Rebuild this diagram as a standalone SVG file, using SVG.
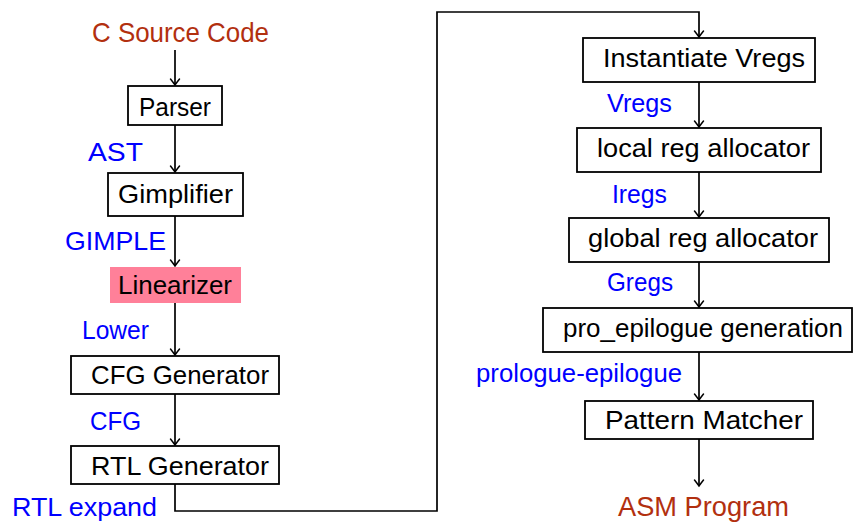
<svg xmlns="http://www.w3.org/2000/svg" width="854" height="523" viewBox="0 0 854 523">
<style>
.box{fill:#fff;stroke:#000;stroke-width:1.8}
.pink{fill:#ff8099;stroke:none}
.t{font-family:"Liberation Sans","DejaVu Sans",sans-serif;font-size:26.5px;fill:#000}
.lbl{font-family:"Liberation Sans","DejaVu Sans",sans-serif;font-size:26.5px;fill:#0000ff}
.io{font-family:"Liberation Sans","DejaVu Sans",sans-serif;font-size:27.5px;fill:#b2300f}
.ln{fill:none;stroke:#000;stroke-width:1.7}
</style>
<defs>
<marker id="ar" markerUnits="userSpaceOnUse" markerWidth="14" markerHeight="14" refX="0" refY="0" viewBox="-10 -7 12 14" orient="auto">
<path d="M-6,-4.5 Q-1.5,-1 0,0 Q-1.5,1 -6,4.5" fill="none" stroke="#000" stroke-width="1.5" stroke-linecap="round"/>
</marker>
</defs>
<g id="connectors">
<line class="ln" x1="175" y1="50" x2="175" y2="85" marker-end="url(#ar)"/>
<line class="ln" x1="175" y1="125" x2="175" y2="172" marker-end="url(#ar)"/>
<line class="ln" x1="175" y1="216" x2="175" y2="266" marker-end="url(#ar)"/>
<line class="ln" x1="175" y1="303" x2="175" y2="355" marker-end="url(#ar)"/>
<line class="ln" x1="175" y1="394" x2="175" y2="445" marker-end="url(#ar)"/>
<path class="ln" d="M175,484 V511 H437 V12 H699 V37" marker-end="url(#ar)"/>
<line class="ln" x1="699" y1="82" x2="699" y2="127" marker-end="url(#ar)"/>
<line class="ln" x1="699" y1="172" x2="699" y2="217" marker-end="url(#ar)"/>
<line class="ln" x1="699" y1="262" x2="699" y2="307" marker-end="url(#ar)"/>
<line class="ln" x1="699" y1="352" x2="699" y2="400" marker-end="url(#ar)"/>
<line class="ln" x1="699" y1="439" x2="699" y2="486" marker-end="url(#ar)"/>
<text class="lbl" x="88" y="161" textLength="55" lengthAdjust="spacingAndGlyphs">AST</text>
<text class="lbl" x="65" y="250" textLength="101" lengthAdjust="spacingAndGlyphs">GIMPLE</text>
<text class="lbl" x="82" y="339" textLength="67" lengthAdjust="spacingAndGlyphs">Lower</text>
<text class="lbl" x="90" y="430" textLength="51" lengthAdjust="spacingAndGlyphs">CFG</text>
<text class="lbl" x="12" y="516" textLength="145" lengthAdjust="spacingAndGlyphs">RTL expand</text>
<text class="lbl" x="607" y="112" textLength="65" lengthAdjust="spacingAndGlyphs">Vregs</text>
<text class="lbl" x="612" y="203" textLength="55" lengthAdjust="spacingAndGlyphs">Iregs</text>
<text class="lbl" x="607" y="291" textLength="66" lengthAdjust="spacingAndGlyphs">Gregs</text>
<text class="lbl" x="476" y="382" textLength="206" lengthAdjust="spacingAndGlyphs">prologue-epilogue</text>
</g>
<g id="src"><text class="io" x="92" y="42" textLength="177" lengthAdjust="spacingAndGlyphs">C Source Code</text></g>
<g id="parser"><rect class="box" x="128" y="86" width="94" height="39"/><text class="t" x="139" y="116" textLength="72" lengthAdjust="spacingAndGlyphs">Parser</text></g>
<g id="gimplifier"><rect class="box" x="108" y="173" width="135" height="43"/><text class="t" x="118" y="203" textLength="115" lengthAdjust="spacingAndGlyphs">Gimplifier</text></g>
<g id="linearizer"><rect class="pink" x="110" y="267" width="131" height="36"/><text class="t" x="118" y="294" textLength="114" lengthAdjust="spacingAndGlyphs">Linearizer</text></g>
<g id="cfggen"><rect class="box" x="71" y="356" width="208" height="38"/><text class="t" x="91" y="384" textLength="178" lengthAdjust="spacingAndGlyphs">CFG Generator</text></g>
<g id="rtlgen"><rect class="box" x="71" y="446" width="208" height="38"/><text class="t" x="91" y="475" textLength="178" lengthAdjust="spacingAndGlyphs">RTL Generator</text></g>
<g id="vregs"><rect class="box" x="583" y="38" width="232" height="44"/><text class="t" x="603" y="67" textLength="202" lengthAdjust="spacingAndGlyphs">Instantiate Vregs</text></g>
<g id="local"><rect class="box" x="577" y="128" width="244" height="44"/><text class="t" x="597" y="157" textLength="213" lengthAdjust="spacingAndGlyphs">local reg allocator</text></g>
<g id="global"><rect class="box" x="569" y="218" width="260" height="44"/><text class="t" x="588" y="247" textLength="230" lengthAdjust="spacingAndGlyphs">global reg allocator</text></g>
<g id="proepi"><rect class="box" x="543" y="308" width="309" height="44"/><text class="t" x="563" y="337" textLength="280" lengthAdjust="spacingAndGlyphs">pro_epilogue generation</text></g>
<g id="pattern"><rect class="box" x="585" y="401" width="228" height="38"/><text class="t" x="605" y="429" textLength="198" lengthAdjust="spacingAndGlyphs">Pattern Matcher</text></g>
<g id="asm"><text class="io" x="618" y="516" textLength="171" lengthAdjust="spacingAndGlyphs">ASM Program</text></g>
</svg>
